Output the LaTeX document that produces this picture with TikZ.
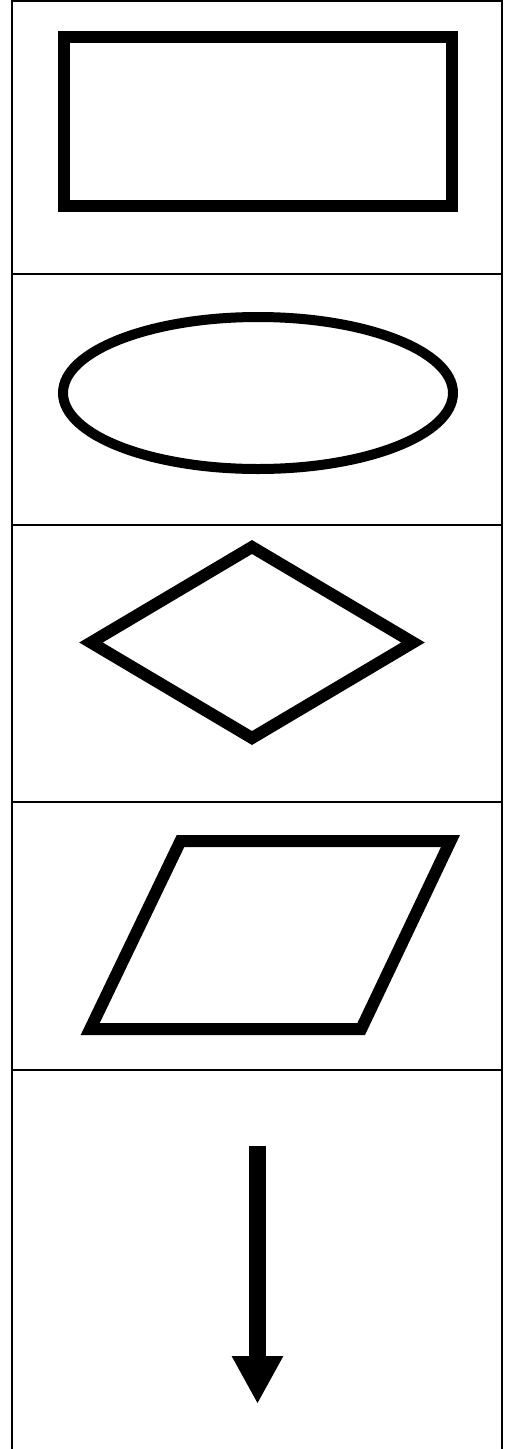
\documentclass[tikz,border=0pt]{standalone}
\usetikzlibrary{arrows.meta}
\begin{document}
\begin{tikzpicture}[x=1pt,y=-1pt,
  tablerule/.style={line width=2pt},
  shapeline/.style={line width=12pt,miter limit=10}]
  \useasboundingbox (0,0) rectangle (513,1449);
  % Table frame and row rules
  \draw[tablerule] (12.3,1449) -- (12.3,1.2) -- (502,1.2) -- (502,1449);
  \foreach \y in {274.3,525,802,1070}
    \draw[tablerule] (12.3,\y) -- (502,\y);
  % Process box
  \draw[shapeline] (64.3,36.7) rectangle (452,206);
  % Terminal
  \draw[shapeline,line width=10pt] (258,393) ellipse [x radius=195, y radius=76];
  % Decision
  \draw[shapeline] (252,547) -- (413,642.5) -- (252,738) -- (91,642.5) -- cycle;
  % Input / output
  \draw[shapeline] (180.5,841) -- (450.5,841) -- (361.2,1029) -- (90.2,1029) -- cycle;
  % Flow line
  \coordinate (flowtop) at (257.5,1146);
  \coordinate (flowtip) at (257.5,1404);
  \draw[line width=17pt,-{Triangle[length=48pt,width=48pt]}] (flowtop) -- (flowtip);
\end{tikzpicture}
\end{document}
